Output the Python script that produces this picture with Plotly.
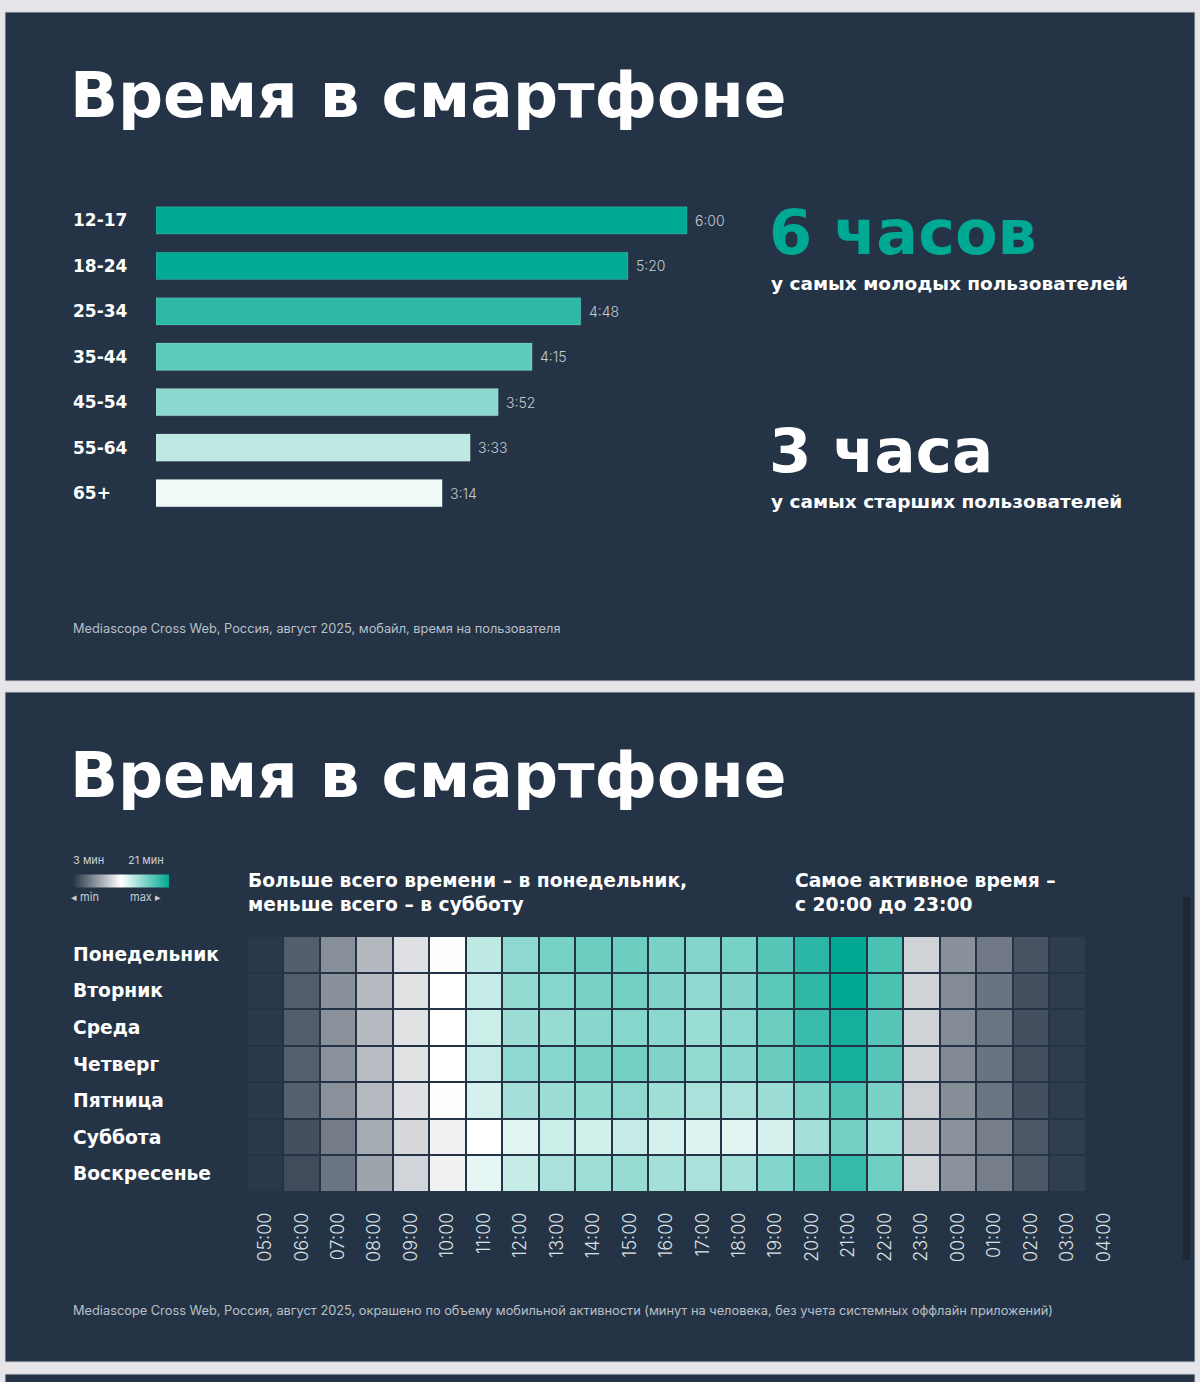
import plotly.graph_objects as go

W, H = 1200, 1382

# ---------------- data ----------------
age_groups = ["12-17", "18-24", "25-34", "35-44", "45-54", "55-64", "65+"]
minutes_per_day = [360, 320, 288, 255, 232, 213, 194]

hours = ["05:00", "06:00", "07:00", "08:00", "09:00", "10:00", "11:00", "12:00",
         "13:00", "14:00", "15:00", "16:00", "17:00", "18:00", "19:00", "20:00",
         "21:00", "22:00", "23:00", "00:00", "01:00", "02:00", "03:00", "04:00"]
days = ["Понедельник", "Вторник", "Среда", "Четверг", "Пятница", "Суббота", "Воскресенье"]

monday    = [3.2, 4.9, 7.05, 8.9, 10.65, 11.95, 14.25, 16.0, 16.8, 17.2, 17.2, 16.7, 16.4, 16.8, 18.0, 19.5, 21.0, 18.4, 10.0, 7.1, 6.05, 4.4, 3.4, 3.0]
tuesday   = [3.2, 4.85, 7.1, 9.0, 10.7, 12.0, 14.1, 15.8, 16.3, 16.7, 16.9, 16.5, 16.0, 16.5, 17.8, 19.4, 21.0, 18.4, 10.0, 6.9, 5.85, 4.3, 3.4, 3.0]
wednesday = [3.2, 4.85, 7.15, 9.0, 10.7, 12.0, 13.8, 15.5, 15.7, 16.2, 16.3, 16.1, 15.6, 16.1, 17.2, 19.0, 20.3, 18.0, 10.0, 6.9, 5.9, 4.3, 3.4, 3.0]
thursday  = [3.2, 4.95, 7.15, 9.1, 10.7, 12.0, 14.1, 16.0, 16.3, 16.7, 16.9, 16.5, 15.9, 16.2, 17.3, 18.8, 20.3, 18.0, 10.0, 6.8, 5.85, 4.25, 3.4, 3.0]
friday    = [3.2, 5.0, 7.15, 8.95, 10.65, 11.95, 13.5, 15.2, 15.5, 15.8, 16.0, 15.4, 15.0, 15.0, 15.5, 16.6, 18.2, 16.7, 9.85, 7.0, 5.95, 4.3, 3.4, 3.0]
saturday  = [3.2, 4.3, 6.2, 8.3, 10.3, 11.4, 12.0, 13.0, 13.8, 13.6, 14.1, 13.5, 13.2, 13.1, 13.4, 15.2, 17.0, 15.6, 9.7, 7.2, 6.3, 4.6, 3.5, 3.0]
sunday    = [3.2, 4.1, 5.9, 8.0, 10.1, 11.4, 12.9, 14.0, 15.0, 15.4, 15.7, 15.3, 15.0, 15.3, 16.4, 17.6, 19.2, 17.1, 10.0, 7.2, 6.3, 4.6, 3.5, 3.0]
z_min, z_max = 3, 21

# ---------------- style ----------------
PAGE = "#e6e5ea"
PANEL = "#243345"
TEAL = "#00a993"
bar_colors = ["#00a993", "#03aa95", "#2db9a6", "#5fcbbc", "#8bd9ce", "#bee9e3", "#f0faf8"]
BOLD = dict(family="'DejaVu Sans', sans-serif", weight=700, color="white")
LIGHT = "Inter, 'Open Sans', sans-serif"


def px(x):
    return x / W


def py(y):
    return 1 - y / H


fig = go.Figure()

# ---- bar chart ----
fig.add_trace(go.Bar(
    x=minutes_per_day, y=age_groups, orientation="h",
    marker=dict(color=bar_colors, line=dict(color="rgba(255,255,255,0.15)", width=1)),
    xaxis="x", yaxis="y", hoverinfo="skip", showlegend=False,
))

# ---- heatmap ----
fig.add_trace(go.Heatmap(
    z=[monday, tuesday, wednesday, thursday, friday, saturday, sunday],
    x=hours, y=days, zmin=z_min, zmax=z_max,
    colorscale=[[0, "#253345"], [0.5, "#ffffff"], [1, TEAL]],
    xgap=2, ygap=2, xaxis="x2", yaxis="y2", hoverinfo="skip",
    colorbar=dict(
        orientation="h", lenmode="pixels", len=96, thickness=13,
        x=px(121), xanchor="center", y=py(880.5), yanchor="middle",
        xpad=0, ypad=0, outlinewidth=0, showticklabels=False, ticks="",
    ),
))

annotations = []
shapes = []

# page panels
shapes.append(dict(type="rect", xref="paper", yref="paper", x0=0, x1=1, y0=0, y1=1,
                   fillcolor=PAGE, line_width=0, layer="below"))
for (y0, y1) in [(12, 681), (692, 1362), (1374, 1400)]:
    shapes.append(dict(type="rect", xref="paper", yref="paper",
                       x0=px(5), x1=px(1195), y0=py(y1), y1=py(y0),
                       fillcolor=PANEL, line=dict(color="#cfced6", width=1), layer="below"))
# scroll indicator on panel 2
shapes.append(dict(type="rect", xref="paper", yref="paper",
                   x0=px(1183), x1=px(1190), y0=py(1260), y1=py(897),
                   fillcolor="#1d2834", line_width=0, layer="below"))


def text(x, y, s, size, font=None, color="white", anchor="left", yanchor="middle", **kw):
    f = dict(font or BOLD)
    f.update(size=size, color=color)
    annotations.append(dict(x=px(x), y=py(y), xref="paper", yref="paper", text=s,
                            showarrow=False, xanchor=anchor, yanchor=yanchor,
                            font=f, align="left", **kw))


# titles
text(68, 95, "Время в смартфоне", 63)
text(68, 775, "Время в смартфоне", 63)

# bar value labels and category labels (data-driven)
for g, m in zip(age_groups, minutes_per_day):
    annotations.append(dict(x=m, y=g, xref="x", yref="y", text=f"{m // 60}:{m % 60:02d}",
                            showarrow=False, xanchor="left", xshift=6,
                            font=dict(family=LIGHT, size=14, color="#c5cad1", weight=300)))
    annotations.append(dict(x=px(71), y=g, xref="paper", yref="y", text=g,
                            showarrow=False, xanchor="left",
                            font=dict(BOLD, size=17)))

# right side highlights
text(767, 232, "6 часов", 62, color=TEAL)
text(769, 284, "у самых молодых пользователей", 18.5)
text(767, 450, "3 часа", 61)
text(769, 501, "у самых старших пользователей", 18.5)

# sources
src_font = dict(family=LIGHT, weight=400)
text(71, 629, "Mediascope Cross Web, Россия, август 2025, мобайл, время на пользователя",
     12.8, font=src_font, color="#b9c0c8")
text(71, 1310, "Mediascope Cross Web, Россия, август 2025, окрашено по объему мобильной "
     "активности (минут на человека, без учета системных оффлайн приложений)",
     12.8, font=src_font, color="#b9c0c8")

# legend labels
text(71, 860, "3 мин", 11, font=src_font, color="#c9ced4")
text(126, 860, "21 мин", 11, font=src_font, color="#c9ced4")
text(69, 897, "◂ min", 11, font=src_font, color="#c9ced4")
text(128, 897, "max ▸", 11, font=src_font, color="#c9ced4")

# subtitles
text(246, 892, "Больше всего времени – в понедельник,<br>меньше всего – в субботу", 18.7)
text(793, 892, "Самое активное время –<br>с 20:00 до 23:00", 18.7)

# day labels
for d in days:
    annotations.append(dict(x=px(71), y=d, xref="paper", yref="y2", text=d,
                            showarrow=False, xanchor="left",
                            font=dict(BOLD, size=18.7)))

fig.update_layout(
    width=W, height=H, margin=dict(l=0, r=0, t=0, b=0),
    paper_bgcolor=PAGE, plot_bgcolor="#35414f",
    bargap=0.4, showlegend=False,
    shapes=shapes, annotations=annotations,
    xaxis=dict(domain=[px(156), px(156 + 1.475 * 400)], range=[0, 400], visible=False, fixedrange=True),
    yaxis=dict(domain=[py(515.75), py(197.75)], autorange="reversed", visible=False,
               categoryorder="array", categoryarray=age_groups),
    xaxis2=dict(domain=[px(247), px(1122)], anchor="y2", side="bottom", tickangle=-90,
                ticks="", ticklabelstandoff=16, showgrid=False, zeroline=False, showline=False,
                tickfont=dict(family=LIGHT, size=18, color="#dde2e7", weight=300)),
    yaxis2=dict(domain=[py(1192), py(936)], anchor="x2", autorange="reversed",
                showticklabels=False, showgrid=False, zeroline=False, ticks=""),
)

fig.write_html("out.html", config={"displayModeBar": False},
               post_script="document.body.style.margin='0';document.body.style.overflow='hidden';")
